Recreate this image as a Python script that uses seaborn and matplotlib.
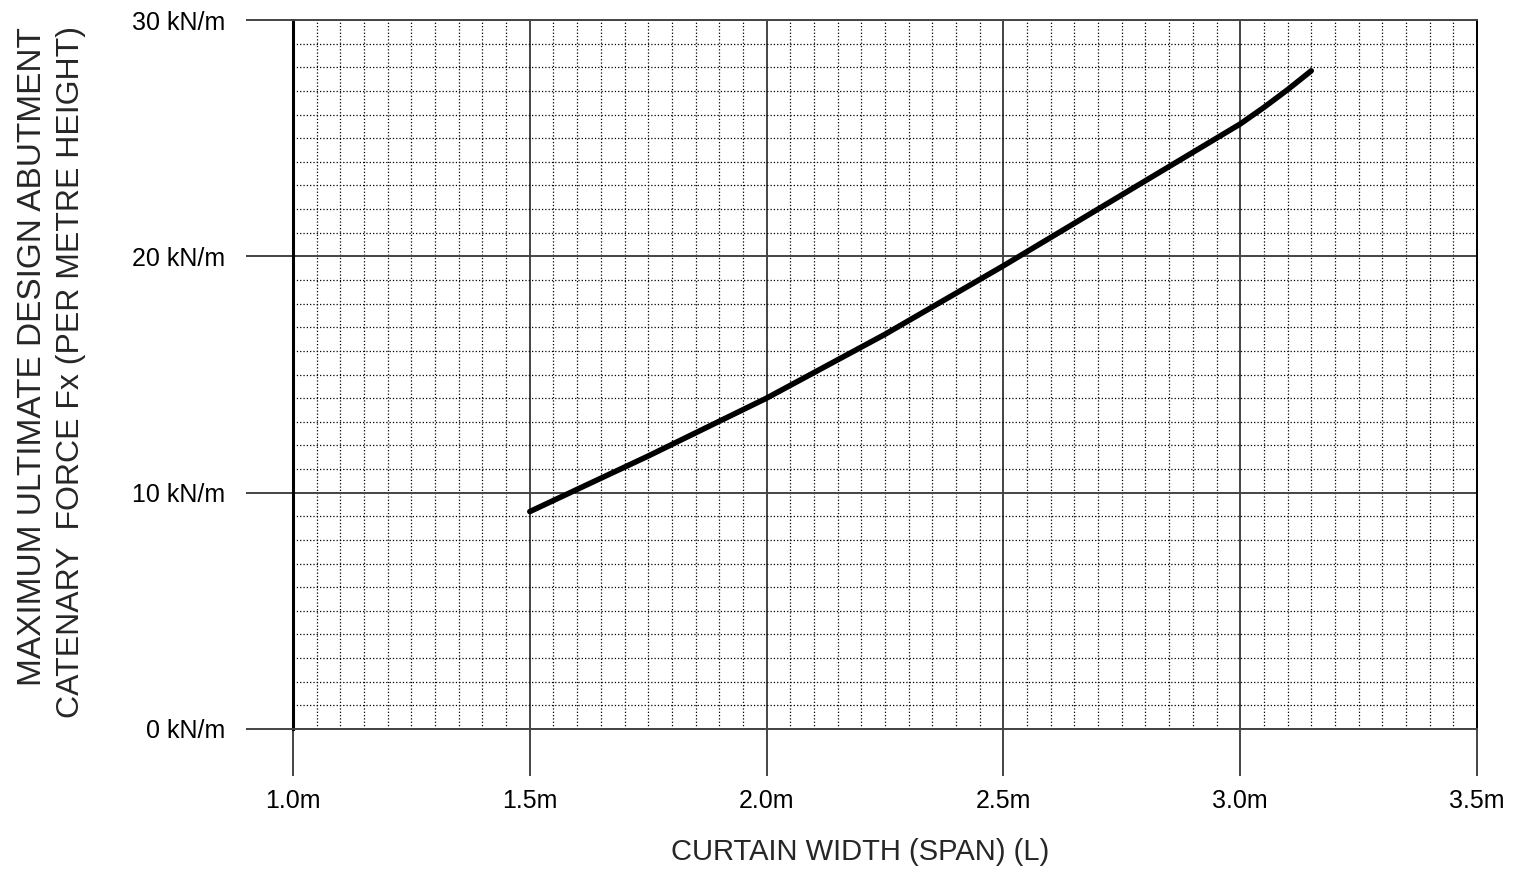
import matplotlib
matplotlib.use("Agg")
import matplotlib.pyplot as plt
from matplotlib.ticker import MultipleLocator, FixedLocator, FixedFormatter
import seaborn as sns
import pandas as pd

# ---- data ----
span_m = [1.5, 1.75, 2.0, 2.25, 2.5, 2.6, 2.7, 2.8, 2.9, 3.0, 3.05, 3.1, 3.15]
force_kn = [9.2, 11.55, 14.0, 16.7, 19.6, 20.8, 22.0, 23.2, 24.4, 25.6, 26.3, 27.05, 27.85]

x_ticks = [1.0, 1.5, 2.0, 2.5, 3.0, 3.5]
x_tick_labels = ["1.0m", "1.5m", "2.0m", "2.5m", "3.0m", "3.5m"]
y_ticks = [0, 10, 20, 30]
y_tick_labels = ["0 kN/m", "10 kN/m", "20 kN/m", "30 kN/m"]

x_label = "CURTAIN WIDTH (SPAN) (L)"
y_label_1 = "MAXIMUM ULTIMATE DESIGN ABUTMENT"
y_label_2 = "CATENARY  FORCE Fx (PER METRE HEIGHT)"

df = pd.DataFrame({"span": span_m, "force": force_kn})

sns.set_style("white")
plt.rcParams["font.family"] = ["Liberation Sans", "DejaVu Sans"]

W, H = 1526, 877
fig = plt.figure(figsize=(W / 100, H / 100), dpi=100)
ax = fig.add_axes([293 / W, 1 - 729 / H, (1477 - 293) / W, (729 - 20) / H])

sns.lineplot(data=df, x="span", y="force", ax=ax, color="black",
             linewidth=4.0, solid_capstyle="round", zorder=5)

ax.set_xlim(1.0, 3.5)
ax.set_ylim(0, 30)
ax.xaxis.set_major_locator(FixedLocator(x_ticks))
ax.xaxis.set_major_formatter(FixedFormatter(x_tick_labels))
ax.yaxis.set_major_locator(FixedLocator(y_ticks))
ax.yaxis.set_major_formatter(FixedFormatter(y_tick_labels))
ax.xaxis.set_minor_locator(MultipleLocator(0.05))
ax.yaxis.set_minor_locator(MultipleLocator(1))

ax.set_axisbelow(True)
ax.grid(which="minor", color="black", linewidth=0.9, linestyle=":")
ax.grid(which="major", color="#444444", linewidth=1.4, linestyle="-")

ax.tick_params(which="major", bottom=True, left=True, top=False, right=False,
               length=34, width=1.4, color="#444444",
               direction="out", labelsize=18, labelcolor="black")
ax.tick_params(axis="y", which="major", pad=15)
ax.tick_params(axis="x", which="major", pad=9)
ax.tick_params(which="minor", length=0)

for side in ["top", "bottom"]:
    ax.spines[side].set_color("#444444")
    ax.spines[side].set_linewidth(1.4)
ax.spines["right"].set_color("black")
ax.spines["right"].set_linewidth(1.4)
ax.spines["left"].set_color("black")
ax.spines["left"].set_linewidth(2.2)

ax.set_xlabel("")
ax.set_ylabel("")

fig.text(860 / W, 1 - 860 / H, x_label, ha="center", va="baseline", fontsize=21)
fig.text(33 / W, 1 - 357 / H, y_label_1, rotation=90, ha="center", va="center", fontsize=24)
fig.text(71 / W, 1 - 372 / H, y_label_2, rotation=90, ha="center", va="center", fontsize=23)

fig.savefig("out.png", dpi=100)
